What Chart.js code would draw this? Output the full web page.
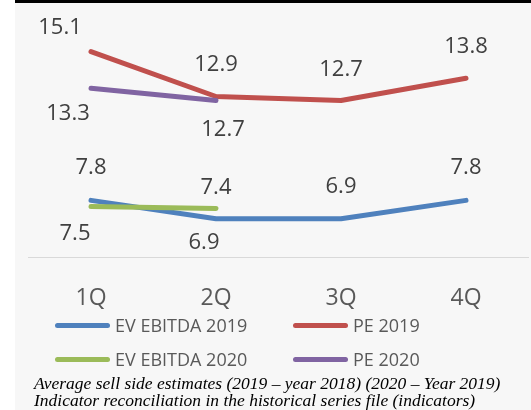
<!DOCTYPE html>
<html>
<head>
<meta charset="utf-8">
<script src="https://cdn.jsdelivr.net/npm/chart.js@4/dist/chart.umd.min.js"></script>
<style>
  html, body { margin: 0; padding: 0; background: #fff; }
  #frame {
    position: absolute; left: 15px; top: 0; width: 516px; height: 410px;
    background: #f7f7f7; border-top: 3px solid #000; box-sizing: border-box;
  }
  #multiplesChart { position: absolute; left: 0; top: 0; }
  #legend {
    position: absolute; left: 40px; top: 312px;
    display: grid; grid-template-columns: 238px 200px; row-gap: 14px;
    font-family: 'Open Sans', sans-serif; font-size: 18px; color: #595959;
  }
  .item { display: flex; align-items: center; height: 20px; }
  .swatch { width: 55px; height: 5px; border-radius: 3px; margin-right: 5px; }
  #note {
    position: absolute; left: 19px; top: 372px;
    font-family: 'Liberation Serif', serif; font-style: italic; font-size: 17.5px;
    line-height: 17px; color: #000;
  }
</style>
</head>
<body>
<div id="frame">
  <canvas id="multiplesChart" width="516" height="336"></canvas>
  <div id="legend"></div>
  <div id="note">Average sell side estimates (2019 – year 2018) (2020 – Year 2019)<br>Indicator reconciliation in the historical series file (indicators)</div>
</div>
<script>
const quarters = ['1Q', '2Q', '3Q', '4Q'];
const evEbitda2019 = [7.8, 6.9, 6.9, 7.8];
const pe2019 = [15.1, 12.9, 12.7, 13.8];
const evEbitda2020 = [7.5, 7.4];
const pe2020 = [13.3, 12.7];

// value labels sit around each point, nudged by a per-point offset
const pointLabels = {
  id: 'pointLabels',
  afterDatasetsDraw(chart) {
    const ctx = chart.ctx;
    ctx.save();
    ctx.font = '22px "Open Sans"';
    ctx.fillStyle = '#404040';
    ctx.textAlign = 'center';
    ctx.textBaseline = 'middle';
    chart.data.datasets.forEach((ds, i) => {
      chart.getDatasetMeta(i).data.forEach((pt, j) => {
        const off = ds.labelOffsets[j];
        ctx.fillText(ds.data[j].toFixed(1), pt.x + off[0], pt.y + off[1]);
      });
    });
    ctx.restore();
  }
};

function lineSet(label, data, color, offsets, order) {
  return {
    label, data, order,
    borderColor: color,
    backgroundColor: color,
    borderWidth: 5,
    borderCapStyle: 'round',
    borderJoinStyle: 'round',
    pointRadius: 0,
    tension: 0,
    labelOffsets: offsets
  };
}

const chart = new Chart(document.getElementById('multiplesChart'), {
  type: 'line',
  data: {
    labels: quarters,
    datasets: [
      lineSet('EV EBITDA 2019', evEbitda2019, '#4f81bd', [[0, -33], [-12, 24], [0, -32], [0, -33]], 2),
      lineSet('PE 2019', pe2019, '#c0504d', [[-31, -24], [0, -32], [0, -31], [0, -31]], 2),
      lineSet('EV EBITDA 2020', evEbitda2020, '#9bbb59', [[-16, 27], [0, -21]], 1),
      lineSet('PE 2020', pe2020, '#8064a2', [[-23, 25], [7, 29]], 1)
    ]
  },
  options: {
    responsive: false,
    animation: false,
    layout: { padding: { left: 13.5, right: 2.5, top: 10, bottom: 0 } },
    plugins: { legend: { display: false }, tooltip: { enabled: false } },
    scales: {
      x: {
        offset: true,
        grid: { display: false, drawTicks: false },
        border: { display: true, color: '#d9d9d9', width: 1 },
        ticks: { color: '#595959', font: { family: 'Open Sans', size: 23 }, padding: 27 }
      },
      y: { display: false, min: 5, max: 17 }
    }
  },
  plugins: [pointLabels]
});

// legend built from the datasets, two columns
const legend = document.getElementById('legend');
chart.data.datasets.forEach(ds => {
  const item = document.createElement('div');
  item.className = 'item';
  item.innerHTML = `<span class="swatch" style="background:${ds.borderColor}"></span><span>${ds.label}</span>`;
  legend.appendChild(item);
});
</script>
</body>
</html>
